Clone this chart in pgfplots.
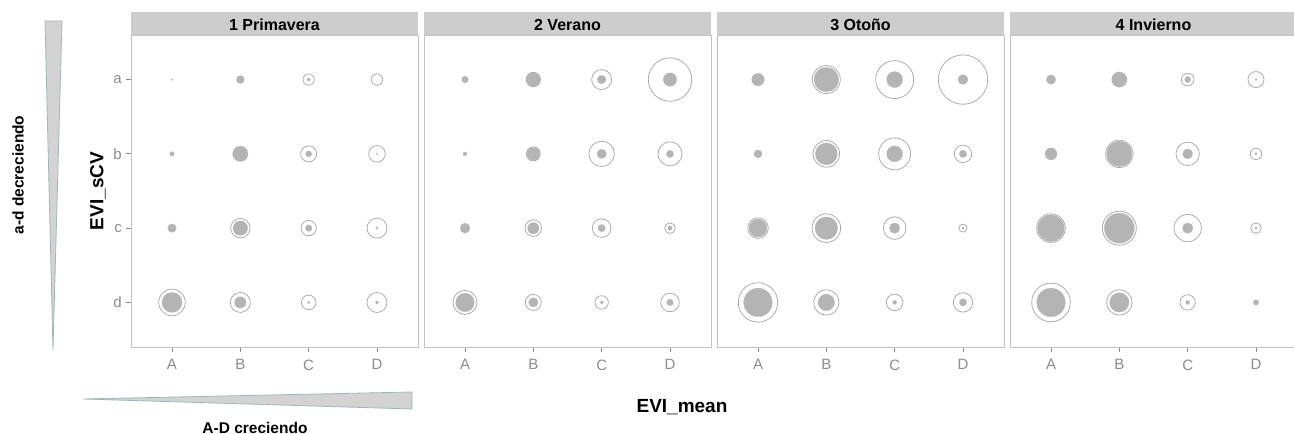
\documentclass[border=0pt]{standalone}
\usepackage{pgfplots}
\pgfplotsset{compat=1.18}
\usepackage{pgfplotstable}
\usepackage{fontspec}
\setmainfont{Liberation Sans}

\definecolor{dotfill}{HTML}{B4B4B4}
\definecolor{ringcol}{HTML}{A8A8A8}
\definecolor{framecol}{HTML}{C2C2C2}
\definecolor{stripcol}{HTML}{CDCDCD}
\definecolor{ticklab}{HTML}{8C8C8C}
\definecolor{wedgefill}{HTML}{D3D3D3}
\definecolor{wedgeedge}{HTML}{9DB8B8}

% x: A..D = 1..4 ; y: a..d = 4..1 ; r = radius (pt)
% ---- 1 Primavera ----
\pgfplotstableread{
x y r
1 4 0.8
2 4 4.0
3 4 1.8
1 3 2.3
2 3 7.7
3 3 3.0
4 3 0.8
1 2 4.3
2 2 7.3
3 2 3.3
4 2 1.3
1 1 10.0
2 1 5.7
3 1 1.3
4 1 1.7
}\fillA
\pgfplotstableread{
x y r
3 4 5.7
4 4 5.7
3 3 8.0
4 3 8.3
2 2 9.7
3 2 7.7
4 2 10.0
1 1 13.3
2 1 10.0
3 1 7.3
4 1 10.0
}\ringA
% ---- 2 Verano ----
\pgfplotstableread{
x y r
1 4 3.3
2 4 6.7
3 4 4.3
4 4 6.7
1 3 2.0
2 3 6.3
3 3 4.7
4 3 3.7
1 2 5.0
2 2 5.7
3 2 3.7
4 2 2.3
1 1 9.3
2 1 4.7
3 1 1.7
4 1 3.3
}\fillB
\pgfplotstableread{
x y r
2 4 7.2
3 4 10.0
4 4 21.7
2 3 7.0
3 3 12.7
4 3 12.0
2 2 8.3
3 2 9.3
4 2 5.3
1 1 12.0
2 1 8.0
3 1 6.7
4 1 9.3
}\ringB
% ---- 3 Otoño ----
\pgfplotstableread{
x y r
1 4 6.3
2 4 12.3
3 4 8.0
4 4 5.0
1 3 4.0
2 3 11.0
3 3 8.0
4 3 3.7
1 2 9.0
2 2 11.3
3 2 5.3
4 2 1.3
1 1 14.3
2 1 8.3
3 1 2.0
4 1 3.7
}\fillC
\pgfplotstableread{
x y r
2 4 14.0
3 4 19.0
4 4 24.7
2 3 13.3
3 3 16.0
4 3 8.7
1 2 10.3
2 2 14.3
3 2 11.3
4 2 4.0
1 1 19.7
2 1 12.7
3 1 8.3
4 1 9.7
}\ringC
% ---- 4 Invierno ----
\pgfplotstableread{
x y r
1 4 4.7
2 4 7.7
3 4 3.0
4 4 1.0
1 3 6.0
2 3 12.7
3 3 5.0
4 3 1.3
1 2 13.3
2 2 15.0
3 2 5.3
4 2 1.3
1 1 14.3
2 1 9.7
3 1 2.0
4 1 2.7
}\fillD
\pgfplotstableread{
x y r
3 4 6.3
4 4 8.0
2 3 13.7
3 3 11.7
4 3 5.7
1 2 14.3
2 2 17.0
3 2 13.7
4 2 5.3
1 1 19.3
2 1 12.7
3 1 7.7
}\ringD

\pgfplotsset{
  panel/.style={
    scale only axis, width=287pt, height=312pt,
    anchor=south west,
    xmin=0.4, xmax=4.6, ymin=0.4, ymax=4.6,
    xtick={1,2,3,4}, xticklabels={A,B,C,D},
    ytick={1,2,3,4}, yticklabels={d,c,b,a},
    axis line style={framecol, line width=0.9pt},
    tick style={ticklab, line width=0.9pt},
    tick align=outside, major tick length=5pt,
    xtick pos=bottom, ytick pos=left,
    tick label style={font=\fontsize{15}{15}\selectfont, text=ticklab},
    xticklabel style={yshift=-4pt},
    yticklabel style={inner sep=4pt},
    clip=false,
  },
  noy/.style={ytick=\empty},
  sized/.style={scatter, only marks, point meta=explicit,
    visualization depends on={\thisrow{r} \as \msize},
    scatter/@pre marker code/.style={/tikz/mark size=\msize},
    scatter/@post marker code/.style={}},
  dots/.style={sized, mark=*, color=dotfill,
    mark options={draw=dotfill, fill=dotfill, line width=0.2pt}},
  rings/.style={sized, mark=o, color=ringcol,
    mark options={draw=ringcol, line width=0.75pt}},
}

\newcommand{\strip}[1]{%
  \fill[stripcol] (rel axis cs:0,1) rectangle ([yshift=23pt]rel axis cs:1,1);
  \node[anchor=base, font=\bfseries\fontsize{16}{16}\selectfont, inner sep=0pt]
    at ([yshift=5pt]rel axis cs:0.5,1) {#1};}

\begin{document}
\begin{tikzpicture}[x=1pt, y=1pt]
\path[use as bounding box] (0,0) rectangle (1294,434);

\begin{axis}[panel, at={(131pt,87pt)}]
  \addplot[dots] table[x=x, y=y, meta=r] {\fillA};
  \addplot[rings] table[x=x, y=y, meta=r] {\ringA};
  \strip{1 Primavera}
\end{axis}

\begin{axis}[panel, noy, at={(424pt,87pt)}]
  \addplot[dots] table[x=x, y=y, meta=r] {\fillB};
  \addplot[rings] table[x=x, y=y, meta=r] {\ringB};
  \strip{2 Verano}
\end{axis}

\begin{axis}[panel, noy, at={(717pt,87pt)}]
  \addplot[dots] table[x=x, y=y, meta=r] {\fillC};
  \addplot[rings] table[x=x, y=y, meta=r] {\ringC};
  \strip{3 Otoño}
\end{axis}

\begin{axis}[panel, noy, at={(1010pt,87pt)}]
  \addplot[dots] table[x=x, y=y, meta=r] {\fillD};
  \addplot[rings] table[x=x, y=y, meta=r] {\ringD};
  \strip{4 Invierno}
\end{axis}

% axis titles
\node[rotate=90, font=\bfseries\fontsize{19}{19}\selectfont] at (98,243) {EVI\_sCV};
\node[anchor=base, font=\bfseries\fontsize{19}{19}\selectfont] at (682,21) {EVI\_mean};

% direction wedges
\filldraw[fill=wedgefill, draw=wedgeedge, line width=0.8pt]
  (45,413) -- (62,413) -- (53,84) -- cycle;
\node[rotate=90, font=\bfseries\fontsize{15.5}{15.5}\selectfont] at (18,259) {a-d decreciendo};
\filldraw[fill=wedgefill, draw=wedgeedge, line width=0.8pt]
  (83,35) -- (412,42) -- (412,25) -- cycle;
\node[anchor=base, font=\bfseries\fontsize{15.5}{15.5}\selectfont] at (255,1) {A-D creciendo};
\end{tikzpicture}
\end{document}
